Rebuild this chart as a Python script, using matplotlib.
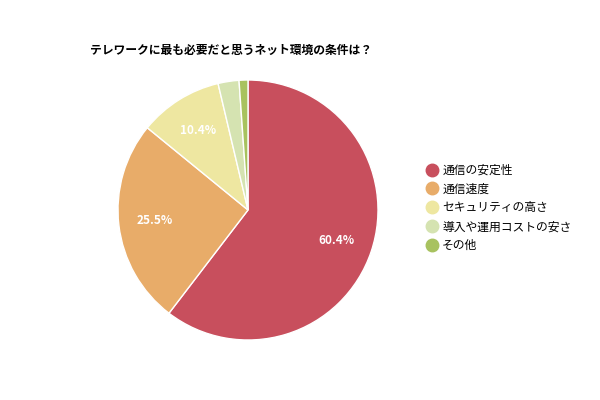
import matplotlib
matplotlib.use("Agg")
import matplotlib.pyplot as plt
from matplotlib.lines import Line2D
import numpy as np

plt.rcParams['font.family'] = ['Noto Sans CJK JP', 'DejaVu Sans']

labels = ["通信の安定性", "通信速度", "セキュリティの高さ", "導入や運用コストの安さ", "その他"]
values = [60.4, 25.5, 10.4, 2.6, 1.1]
colors = ["#C84F5D", "#E8AC69", "#EEE7A1", "#D5E3B1", "#A8C25F"]

fig = plt.figure(figsize=(6, 4), dpi=100)
ax = fig.add_axes([248/600 - 130/600, 1 - (210+130)/400, 260/600, 260/400])
wedges, _ = ax.pie(values, colors=colors, startangle=90, counterclock=False,
                   wedgeprops=dict(edgecolor="white", linewidth=1))
ax.set_xlim(-1, 1)
ax.set_ylim(-1, 1)
ax.set_aspect('equal')
pcts = ["60.4%", "25.5%", "10.4%", "", ""]
ang = 90
for w, v, t in zip(wedges, values, pcts):
    a0 = ang
    ang -= v * 3.6
    if t:
        mid = np.deg2rad((a0 + ang) / 2)
        ax.text(0.72*np.cos(mid), 0.72*np.sin(mid), t, ha='center', va='center',
                color='white', fontsize=8.5, fontweight='bold')

fig.text(90/600, 1 - 50/400, "テレワークに最も必要だと思うネット環境の条件は？", fontsize=8.5,
         fontweight='bold', va='center', ha='left')
handles = [Line2D([], [], marker='o', linestyle='', markersize=9, markerfacecolor=c,
                  markeredgecolor=c) for c in colors]
fig.legend(handles, labels, loc='center left', bbox_to_anchor=(415/600, 1 - 208/400),
           frameon=False, fontsize=8.5, handlelength=1, labelspacing=0.5,
           handletextpad=0.4)
fig.savefig("out.png", dpi=100)
